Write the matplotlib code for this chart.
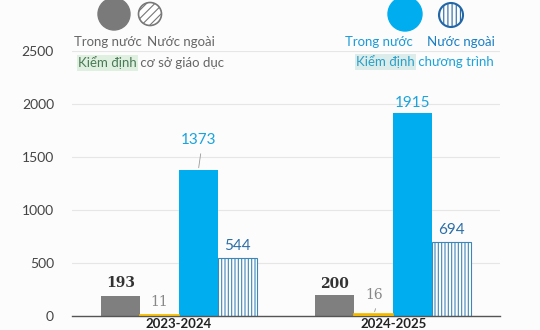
import matplotlib.pyplot as plt
import numpy as np
from matplotlib.patches import Circle

plt.rcParams['font.family'] = ['Lato', 'DejaVu Sans']
plt.rcParams['hatch.linewidth'] = 0.8

years = ['2023-2024', '2024-2025']
csgd_trong = [193, 200]     # Kiểm định cơ sở giáo dục - trong nước
csgd_ngoai = [11, 16]       # Kiểm định cơ sở giáo dục - nước ngoài
ct_trong = [1373, 1915]     # Kiểm định chương trình - trong nước
ct_ngoai = [544, 694]       # Kiểm định chương trình - nước ngoài
yticks = [0, 500, 1000, 1500, 2000, 2500]

fig = plt.figure(figsize=(5.4, 3.3), dpi=100)
fig.patch.set_facecolor('#fcfcfc')
ax = fig.add_axes([72/540, 14/330, 428/540, 265/330])
ax.set_facecolor('none')

group = np.array([0.0, 5.5])
w = 1.0
b1 = ax.bar(group, csgd_trong, w, color='#7f7f7f')
b2 = ax.bar(group + 1, csgd_ngoai, w, color='#f2b800', edgecolor='#f2b800',
            linewidth=1.2, zorder=3)
b3 = ax.bar(group + 2, ct_trong, w, color='#00aeef')
b4 = ax.bar(group + 3, ct_ngoai, w, color='white', edgecolor='#3d86b8',
            hatch='|||||', linewidth=0.8)

ax.set_xlim(-1.24, 9.74)
ax.set_ylim(0, 2500)
ax.set_yticks(yticks)
ax.set_xticks(group + 1.5)
ax.set_xticklabels(years, fontsize=9.5, color='#222', fontweight='bold')
ax.tick_params(axis='x', length=0, pad=1.5)
ax.tick_params(axis='y', length=0, pad=13, labelsize=10, labelcolor='#444')
ax.yaxis.grid(True, color='#e6e6e6', linewidth=0.8)
ax.set_axisbelow(True)
for s in ['top', 'right', 'left']:
    ax.spines[s].set_visible(False)
ax.spines['bottom'].set_color('#555')
ax.spines['bottom'].set_linewidth(1)


def label(bars, vals, offs, leader, **kw):
    for rect, v, o, ld in zip(bars, vals, offs, leader):
        x = rect.get_x() + rect.get_width() / 2
        ax.annotate(str(v), (x, v), xytext=(0, o), textcoords='offset points',
                    ha='center', va='center', **kw)
        if ld:
            ax.annotate('', (x, v), xytext=(2, o - 8), textcoords='offset points',
                        arrowprops=dict(arrowstyle='-', color='#999', lw=0.6))


label(b1, csgd_trong, [9, 8], [False, False], fontsize=10, color='#333',
      fontweight='bold', family='DejaVu Serif')
label(b2, csgd_ngoai, [9, 14], [False, True], fontsize=10, color='#888',
      family='DejaVu Serif')
label(b3, ct_trong, [22, 7], [True, False], fontsize=11, color='#1ba3dc')
label(b4, ct_ngoai, [9, 9], [False, False], fontsize=11, color='#2c6ea6')

# legend overlay in pixel coordinates
lg = fig.add_axes([0, 0, 1, 1])
lg.set_xlim(0, 540)
lg.set_ylim(330, 0)
lg.axis('off')
lg.patch.set_alpha(0)
lg.add_patch(Circle((114, 14), 16, color='#7a7a7a'))
lg.add_patch(Circle((150, 14), 11.5, facecolor='white', edgecolor='#777',
                    hatch='////', linewidth=1.2))
lg.add_patch(Circle((405, 14), 17, color='#00aeef'))
lg.add_patch(Circle((451, 15), 12, facecolor='white', edgecolor='#2266a6',
                    hatch='||||', linewidth=1.5))

lg.text(108, 42, 'Trong nước', ha='center', va='center', fontsize=9.5, color='#666')
lg.text(181, 42, 'Nước ngoài', ha='center', va='center', fontsize=9.5, color='#666')
lg.text(379, 42, 'Trong nước', ha='center', va='center', fontsize=9.5, color='#1b9ad8')
lg.text(461, 42, 'Nước ngoài', ha='center', va='center', fontsize=9.5, color='#1a7fc4')

t1 = lg.text(78, 63, 'Kiểm định', ha='left', va='center', fontsize=9.5, color='#4a7a55',
             bbox=dict(boxstyle='square,pad=0.1', fc='#dff0e0', ec='none'))
lg.annotate(' cơ sở giáo dục', (1, 0.5), xycoords=t1, ha='left', va='center',
            fontsize=9.5, color='#666')
t2 = lg.text(356, 62, 'Kiểm định', ha='left', va='center', fontsize=9.5, color='#2aa0c8',
             bbox=dict(boxstyle='square,pad=0.1', fc='#dcecea', ec='none'))
lg.annotate(' chương trình', (1, 0.5), xycoords=t2, ha='left', va='center',
            fontsize=9.5, color='#1ba3dc')

plt.savefig('out.png', dpi=100, facecolor=fig.get_facecolor())
